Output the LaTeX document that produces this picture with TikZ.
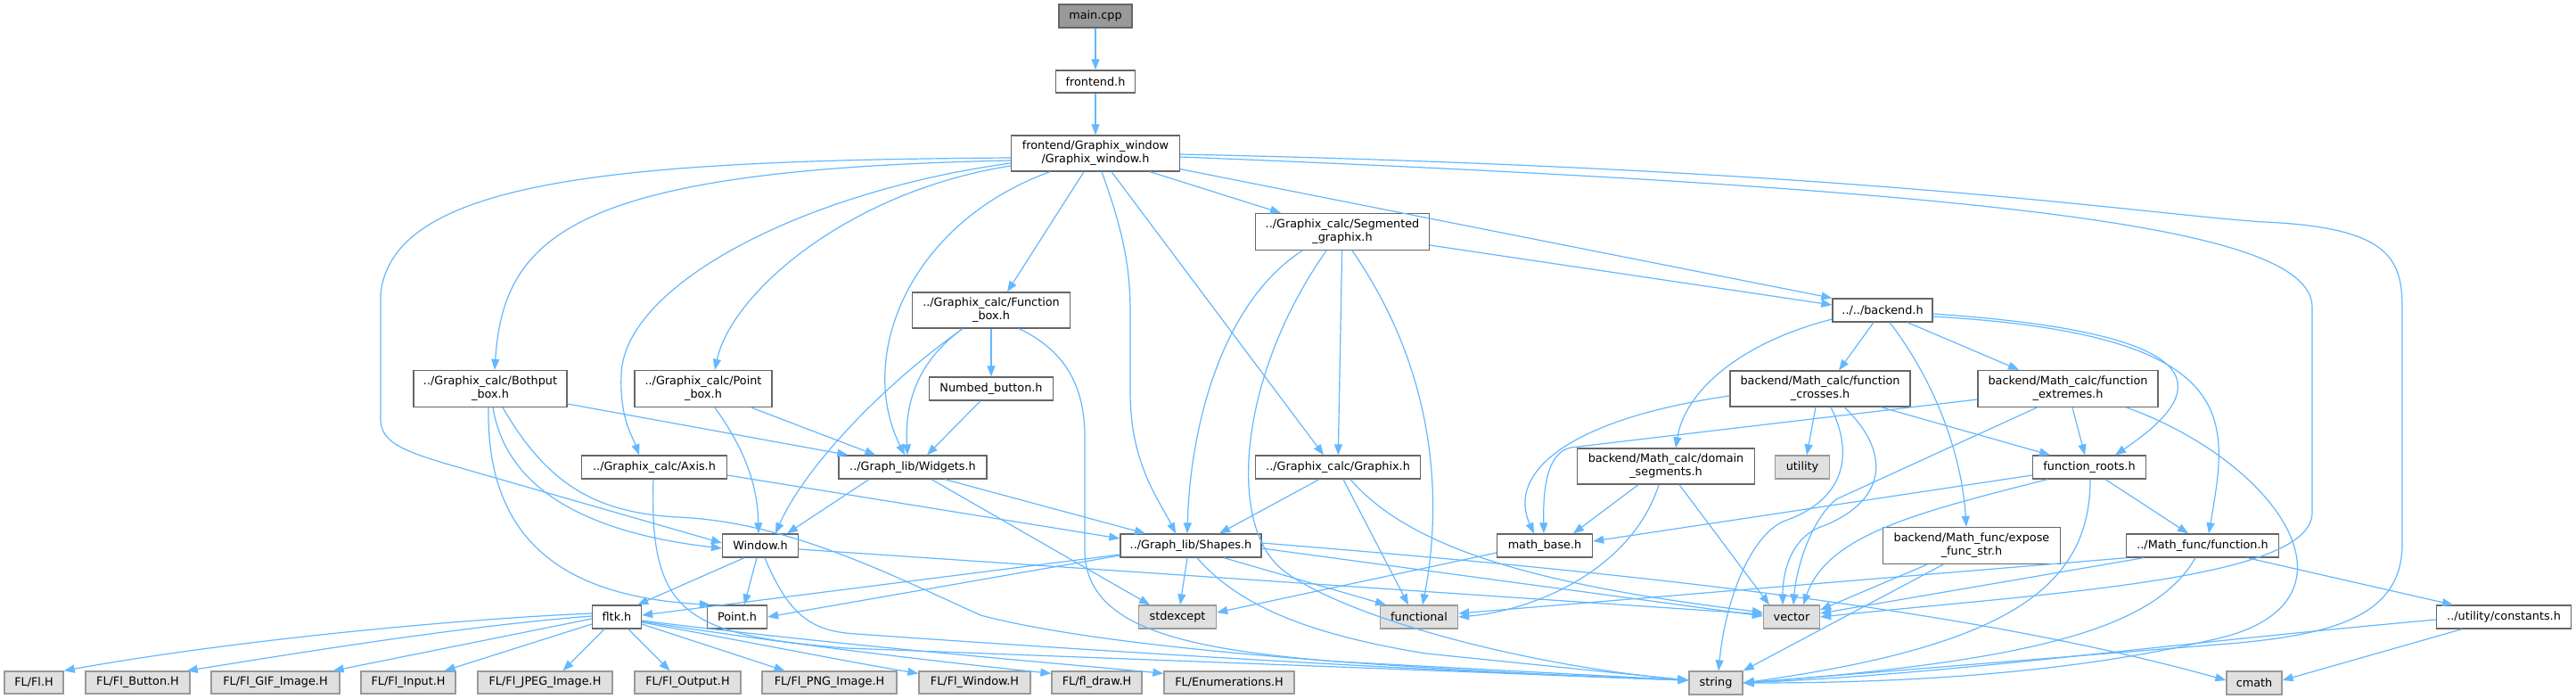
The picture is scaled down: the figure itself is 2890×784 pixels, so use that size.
\documentclass[tikz,border=0pt]{standalone}
\usepackage{fontspec}
\setmainfont{DejaVu Sans}
\usetikzlibrary{arrows.meta}
\definecolor{edgec}{HTML}{63B8FF}
\definecolor{bord}{HTML}{666666}
\definecolor{extbord}{HTML}{999999}
\definecolor{extfill}{HTML}{E0E0E0}
\definecolor{mainfill}{HTML}{999999}
\begin{document}
\begin{tikzpicture}[x=1pt,y=-1pt,
  every node/.style={font=\fontsize{12.8}{15}\selectfont, inner sep=0pt, align=center},
  nd/.style={draw=bord, fill=white, line width=1.3pt},
  extnd/.style={draw=extbord, fill=extfill, line width=1.3pt},
  mainnd/.style={draw=bord, fill=mainfill, line width=1.3pt},
  sz/.style 2 args={minimum width=#1pt, minimum height=#2pt},
  dep/.style={draw=edgec, line width=1.2pt, -{Triangle[length=12pt,width=9pt]}}
]
\fill[white] (0,0) rectangle (2890,784);
\useasboundingbox (0,0) rectangle (2890,784);

% ---------- nodes ----------
\node[mainnd, sz={82}{26}] (main) at (1229,18) {main.cpp};
\node[nd, sz={89}{25}] (front) at (1229,91.5) {frontend.h};
\node[nd, sz={189}{40}] (gw) at (1229,172) {frontend/Graphix\_window\\/Graphix\_window.h};
\node[nd, sz={195}{41}] (seg) at (1506,260) {../Graphix\_calc/Segmented\\\_graphix.h};
\node[nd, sz={177}{40}] (fbox) at (1112,348) {../Graphix\_calc/Function\\\_box.h};
\node[nd, sz={112}{26}] (backend) at (2112,348) {../../backend.h};
\node[nd, sz={172}{41}] (bothput) at (550,436) {../Graphix\_calc/Bothput\\\_box.h};
\node[nd, sz={154}{41}] (pointbox) at (789,436) {../Graphix\_calc/Point\\\_box.h};
\node[nd, sz={163}{26}] (axis) at (734,524) {../Graphix\_calc/Axis.h};
\node[nd, sz={166}{26}] (widgets) at (1024,524) {../Graph\_lib/Widgets.h};
\node[nd, sz={139}{26}] (numbed) at (1112,436) {Numbed\_button.h};
\node[nd, sz={85}{26}] (window) at (853,612) {Window.h};
\node[nd, sz={55}{26}] (fltk) at (692,692) {fltk.h};
\node[nd, sz={67}{26}] (point) at (827,692) {Point.h};
\node[nd, sz={185}{26}] (graphix) at (1501,524) {../Graphix\_calc/Graphix.h};
\node[nd, sz={158}{26}] (shapes) at (1336,612) {../Graph\_lib/Shapes.h};
\node[nd, sz={107}{26}] (mathbase) at (1733,612) {math\_base.h};
\node[nd, sz={199}{40}] (domain) at (1869,523) {backend/Math\_calc/domain\\\_segments.h};
\node[nd, sz={202}{40}] (crosses) at (2042,436) {backend/Math\_calc/function\\\_crosses.h};
\node[extnd, sz={61}{26}] (utility) at (2022,524) {utility};
\node[nd, sz={202}{41}] (extremes) at (2320,436) {backend/Math\_calc/function\\\_extremes.h};
\node[nd, sz={127}{26}] (roots) at (2344,524) {function\_roots.h};
\node[nd, sz={199}{41}] (expose) at (2212,612) {backend/Math\_func/expose\\\_func\_str.h};
\node[nd, sz={171}{26}] (mfunc) at (2471,612) {../Math\_func/function.h};
\node[nd, sz={151}{26}] (constants) at (2809,692) {../utility/constants.h};
\node[extnd, sz={87}{26}] (stdexcept) at (1321,692) {stdexcept};
\node[extnd, sz={87}{26}] (functional) at (1592,692) {functional};
\node[extnd, sz={63}{26}] (vector) at (2010,692) {vector};
\node[extnd, sz={60}{26}] (string) at (1925,766) {string};
\node[extnd, sz={62}{26}] (cmath) at (2529,766) {cmath};
\node[extnd, sz={66}{25}] (flh) at (38,765.5) {FL/Fl.H};
\node[extnd, sz={117}{25}] (flbutton) at (154.5,765.5) {FL/Fl\_Button.H};
\node[extnd, sz={144}{25}] (flgif) at (309,765.5) {FL/Fl\_GIF\_Image.H};
\node[extnd, sz={106}{25}] (flinput) at (458,765.5) {FL/Fl\_Input.H};
\node[extnd, sz={151}{25}] (fljpeg) at (611.5,765.5) {FL/Fl\_JPEG\_Image.H};
\node[extnd, sz={119}{25}] (floutput) at (771.5,765.5) {FL/Fl\_Output.H};
\node[extnd, sz={151}{25}] (flpng) at (930.5,765.5) {FL/Fl\_PNG\_Image.H};
\node[extnd, sz={125}{25}] (flwindow) at (1093.5,765.5) {FL/Fl\_Window.H};
\node[extnd, sz={101}{25}] (fldraw) at (1230.5,765.5) {FL/fl\_draw.H};
\node[extnd, sz={146}{25}] (flenum) at (1379,765.5) {FL/Enumerations.H};

% ---------- edges ----------
\draw[dep] (main) -- (front);
\draw[dep] (front) -- (gw);
% Graphix_window
\draw[dep] ([xshift=61pt]gw.south) -- ([xshift=-69pt]seg.north);
\draw[dep] ([yshift=3pt]gw.south east) -- (backend.north west);
\draw[dep] ([yshift=-4pt]gw.east) .. controls (2300,215) and (2594,260) .. (2594,345) -- (2594,575) .. controls (2594,650) and (2300,665) .. (vector.east);
\draw[dep] ([yshift=-1pt]gw.east) .. controls (2100,190) and (2400,240) .. (2540,249) .. controls (2680,255) and (2695,290) .. (2695,345) -- (2695,610) .. controls (2695,690) and (2620,712) .. (2500,722) -- (string.east);
\draw[dep] ([xshift=7pt]gw.south) .. controls (1268,280) and (1268,320) .. (1268,360) -- (1268,440) .. controls (1268,520) and (1300,560) .. ([xshift=-17pt]shapes.north);
\draw[dep] ([xshift=18pt]gw.south) -- ([xshift=-16pt]graphix.north);
\draw[dep] ([xshift=-13pt]gw.south) -- ([xshift=18pt]fbox.north);
\draw[dep] ([xshift=-51pt]gw.south) .. controls (1020,250) and (960,400) .. ([xshift=-9pt]widgets.north);
\draw[dep] ([yshift=-5pt]gw.west) .. controls (700,180) and (440,200) .. (427,330) -- (427,470) .. controls (427,495) and (450,505) .. (500,520) -- ([yshift=3pt]window.west);
\draw[dep] ([yshift=-8pt]gw.west) .. controls (650,190) and (565,260) .. ([xshift=5pt]bothput.north);
\draw[dep] ([yshift=-11pt]gw.west) .. controls (900,215) and (700,320) .. (697,420) .. controls (695,470) and (710,490) .. ([xshift=-17pt]axis.north);
\draw[dep] ([yshift=-14pt]gw.west) .. controls (950,215) and (820,330) .. ([xshift=13pt]pointbox.north);
% Segmented_graphix
\draw[dep] ([yshift=-15pt]seg.east) -- ([yshift=6pt]backend.west);
\draw[dep] (seg) -- (graphix);
\draw[dep] ([xshift=-45pt]seg.south) .. controls (1370,340) and (1335,480) .. ([xshift=-4pt]shapes.north);
\draw[dep] ([xshift=-18pt]seg.south) .. controls (1390,420) and (1375,590) .. (1440,640) .. controls (1505,690) and (1700,745) .. ([yshift=3pt]string.west);
\draw[dep] ([xshift=11pt]seg.south) .. controls (1620,430) and (1615,580) .. ([xshift=4pt]functional.north);
% Function_box
\draw[dep] (fbox) -- (numbed);
\draw[dep] ([xshift=-32pt]fbox.south) .. controls (1030,405) and (1015,450) .. ([xshift=-6pt]widgets.north);
\draw[dep] ([xshift=-32pt]fbox.south) .. controls (980,440) and (900,530) .. ([xshift=17pt]window.north);
\draw[dep] ([xshift=31pt]fbox.south) .. controls (1200,395) and (1217,440) .. (1217,490) -- (1217,620) .. controls (1220,705) and (1330,728) .. (1500,742) -- ([yshift=3pt]string.west);
\draw[dep] ([xshift=-12pt]numbed.south) -- ([xshift=16pt]widgets.north);
% Bothput_box
\draw[dep] ([yshift=-17pt]bothput.east) -- ([xshift=11pt]widgets.north west);
\draw[dep] ([xshift=3pt]bothput.south) .. controls (570,560) and (680,600) .. ([yshift=-3pt]window.west);
\draw[dep] ([xshift=-2pt]bothput.south) .. controls (545,620) and (650,670) .. ([xshift=-30pt]point.north);
\draw[dep] ([xshift=14pt]bothput.south) .. controls (615,545) and (670,575) .. (760,580) .. controls (880,585) and (990,640) .. (1100,690) .. controls (1250,730) and (1600,752) .. ([yshift=3pt]string.west);
% Point_box
\draw[dep] ([xshift=13pt]pointbox.south) .. controls (840,510) and (850,550) .. ([xshift=-2pt]window.north);
\draw[dep] ([xshift=54pt]pointbox.south) -- ([xshift=42pt]widgets.north west);
% Axis
\draw[dep] ([yshift=-9pt]axis.east) -- ([yshift=8pt]shapes.west);
\draw[dep] ([xshift=-1pt]axis.south) .. controls (728,690) and (770,712) .. (950,727) -- ([yshift=3pt]string.west);
% Widgets
\draw[dep] ([xshift=36pt]widgets.south) -- ([xshift=-51pt]shapes.north);
\draw[dep] ([xshift=-49pt]widgets.south) -- ([xshift=30pt]window.north);
\draw[dep] ([xshift=21pt]widgets.south) -- ([xshift=-31pt]stdexcept.north);
% Window
\draw[dep] ([xshift=-18pt]window.south) -- ([xshift=-5pt]fltk.north east);
\draw[dep] ([xshift=-4pt]window.south) -- ([xshift=8pt]point.north);
\draw[dep] ([yshift=-4pt]window.east) -- ([yshift=3pt]vector.west);
\draw[dep] ([xshift=5pt]window.south) .. controls (885,690) and (910,708) .. (960,711) .. controls (1300,735) and (1650,755) .. ([yshift=3pt]string.west);
% Shapes
\draw[dep] ([yshift=-10pt]shapes.west) -- ([yshift=2pt]fltk.east);
\draw[dep] ([yshift=-11pt]shapes.west) -- (point.east);
\draw[dep] ([xshift=-4pt]shapes.south) -- ([xshift=3pt]stdexcept.north);
\draw[dep] ([xshift=37pt]shapes.south) -- ([xshift=-37pt]functional.north);
\draw[dep] ([xshift=7pt]shapes.south) .. controls (1390,680) and (1470,712) .. (1600,733) -- ([yshift=3pt]string.west);
\draw[dep] ([yshift=-3pt]shapes.east) -- ([yshift=1pt]vector.west);
\draw[dep] ([yshift=3pt]shapes.east) .. controls (1800,640) and (2200,680) .. ([yshift=3pt]cmath.west);
% Graphix
\draw[dep] ([xshift=-21pt]graphix.south) -- ([xshift=32pt]shapes.north);
\draw[dep] ([xshift=6pt]graphix.south) -- ([xshift=-12pt]functional.north);
\draw[dep] ([xshift=14pt]graphix.south) .. controls (1590,625) and (1760,660) .. ([yshift=5pt]vector.west);
% backend
\draw[dep] ([yshift=-10pt]backend.west) .. controls (1950,385) and (1890,440) .. ([xshift=11pt]domain.north);
\draw[dep] ([xshift=-10pt]backend.south) -- ([xshift=21pt]crosses.north);
\draw[dep] ([xshift=8pt]backend.south) .. controls (2165,420) and (2200,500) .. ([xshift=-6pt]expose.north);
\draw[dep] ([xshift=28pt]backend.south) -- ([xshift=-55pt]extremes.north);
\draw[dep] ([yshift=-4pt]backend.east) .. controls (2510,375) and (2470,445) .. ([xshift=29pt]roots.north);
\draw[dep] ([yshift=-7pt]backend.east) .. controls (2520,375) and (2500,470) .. ([xshift=7pt]mfunc.north);
% function_crosses
\draw[dep] ([yshift=-8pt]crosses.west) .. controls (1760,470) and (1690,530) .. ([xshift=-12pt]mathbase.north);
\draw[dep] ([xshift=-5pt]crosses.south) -- ([xshift=5pt]utility.north);
\draw[dep] ([xshift=12pt]crosses.south) .. controls (2085,520) and (2060,565) .. (2000,585) .. controls (1960,605) and (1935,680) .. ([xshift=3pt]string.north);
\draw[dep] ([xshift=27pt]crosses.south) .. controls (2125,510) and (2115,565) .. (2040,592) .. controls (2010,605) and (2000,640) .. ([xshift=-10pt]vector.north);
\draw[dep] ([xshift=68pt]crosses.south) -- ([xshift=-44pt]roots.north);
% function_extremes
\draw[dep] ([yshift=-12pt]extremes.west) -- (1762,502) .. controls (1735,508) and (1731,550) .. ([xshift=-1pt]mathbase.north);
\draw[dep] ([xshift=-35pt]extremes.south) -- (2060,560) .. controls (2030,585) and (2015,640) .. ([xshift=2pt]vector.north);
\draw[dep] ([xshift=5pt]extremes.south) -- ([xshift=-5pt]roots.north);
\draw[dep] ([xshift=66pt]extremes.south) .. controls (2560,520) and (2665,680) .. (2480,718) .. controls (2300,760) and (2100,766) .. (string.east);
% domain_segments
\draw[dep] ([xshift=-31pt]domain.south) -- ([xshift=32pt]mathbase.north);
\draw[dep] ([xshift=-8pt]domain.south) .. controls (1830,640) and (1720,685) .. (functional.east);
\draw[dep] ([xshift=15pt]domain.south) -- ([xshift=-25pt]vector.north);
% function_roots
\draw[dep] ([yshift=-9pt]roots.west) -- ([yshift=5pt]mathbase.east);
\draw[dep] ([xshift=-47pt]roots.south) .. controls (2150,575) and (2050,600) .. ([xshift=13pt]vector.north);
\draw[dep] ([xshift=1pt]roots.south) .. controls (2345,660) and (2250,725) .. (string.east);
\draw[dep] ([xshift=18pt]roots.south) -- ([xshift=-16pt]mfunc.north);
% expose_func_str
\draw[dep] ([xshift=-50pt]expose.south) -- ([yshift=8pt]vector.east);
\draw[dep] ([xshift=-32pt]expose.south) -- (string.north east);
% Math_func/function
\draw[dep] ([xshift=-66pt]mfunc.south) -- ([yshift=4pt]vector.east);
\draw[dep] ([xshift=-85pt]mfunc.south) -- ([yshift=4pt]functional.east);
\draw[dep] ([xshift=-8pt]mfunc.south) .. controls (2420,700) and (2300,740) .. (string.east);
\draw[dep] ([xshift=50pt]mfunc.south) -- ([xshift=-57pt]constants.north);
% constants
\draw[dep] ([yshift=-3pt]constants.west) .. controls (2400,725) and (2200,755) .. (string.east);
\draw[dep] ([xshift=-47pt]constants.south) -- ([yshift=3pt]cmath.east);
% math_base
\draw[dep] ([yshift=-8pt]mathbase.west) -- ([yshift=5pt]stdexcept.east);
% fltk
\draw[dep] ([yshift=4pt]fltk.west) .. controls (500,695) and (250,720) .. (flh.north east);
\draw[dep] ([yshift=1pt]fltk.west) .. controls (520,702) and (330,733) .. ([xshift=-4pt]flbutton.north east);
\draw[dep] ([yshift=-2pt]fltk.west) -- ([xshift=-8pt]flgif.north east);
\draw[dep] ([yshift=-8pt]fltk.west) -- ([xshift=-13pt]flinput.north east);
\draw[dep] ([xshift=-14pt]fltk.south) -- ([xshift=20pt]fljpeg.north);
\draw[dep] ([xshift=13pt]fltk.south) -- ([xshift=-20pt]floutput.north);
\draw[dep] ([yshift=-8pt]fltk.east) -- ([xshift=-50pt]flpng.north);
\draw[dep] ([yshift=-6pt]fltk.east) .. controls (850,722) and (950,742) .. ([yshift=-3pt]flwindow.north west);
\draw[dep] ([yshift=-5pt]fltk.east) .. controls (900,725) and (1080,745) .. ([yshift=-3pt]fldraw.north west);
\draw[dep] ([yshift=-4pt]fltk.east) .. controls (950,725) and (1200,745) .. ([yshift=-3pt]flenum.north west);
\end{tikzpicture}
\end{document}
